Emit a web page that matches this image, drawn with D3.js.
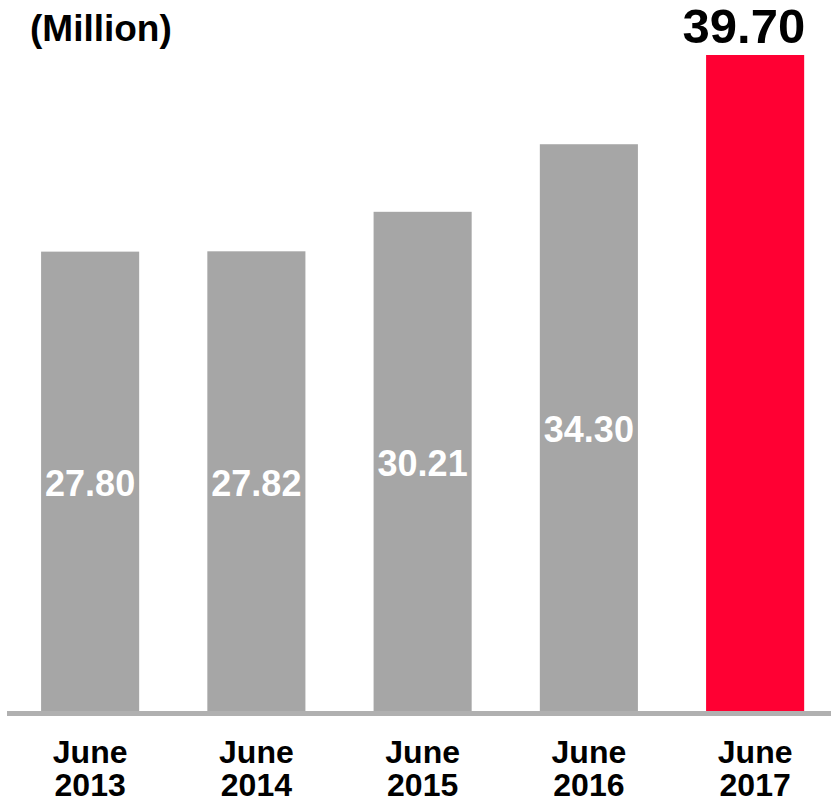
<!DOCTYPE html>
<html>
<head>
<meta charset="utf-8">
<script src="https://cdn.jsdelivr.net/npm/d3@7"></script>
<style>
  body { margin: 0; background: #fff; }
  svg { display: block; font-family: "Liberation Sans", Arial, sans-serif; font-weight: bold; }
</style>
</head>
<body>
<script>
// data
var months = ['June', 'June', 'June', 'June', 'June']
var years = ['2013', '2014', '2015', '2016', '2017']
var values = [27.80, 27.82, 30.21, 34.30, 39.70]
var unitLabel = '(Million)'

var width = 831, height = 802
var baseY = 711, topY = 55

var svg = d3.select('body').append('svg')
  .attr('width', width)
  .attr('height', height)

var x = d3.scaleBand()
  .domain(years)
  .range([7, 838.25])
  .paddingInner(0.41)
  .paddingOuter(0.205)

var y = d3.scaleLinear()
  .domain([0, d3.max(values)])
  .range([baseY, topY])

var last = years.length - 1

svg.selectAll('rect.bar')
  .data(values)
  .enter()
  .append('rect')
  .attr('class', 'bar')
  .attr('x', function(d, i){ return x(years[i]) })
  .attr('y', function(d){ return y(d) })
  .attr('width', x.bandwidth())
  .attr('height', function(d){ return y(0) - y(d) })
  .attr('fill', function(d, i){ return i === last ? '#ff0033' : '#a6a6a6' })

// baseline
svg.append('line')
  .attr('x1', 7)
  .attr('x2', width)
  .attr('y1', y(0) + 2.5)
  .attr('y2', y(0) + 2.5)
  .attr('stroke', '#b0b0b0')
  .attr('stroke-width', 5)

// value labels inside the grey bars
svg.selectAll('text.val')
  .data(values.slice(0, last))
  .enter()
  .append('text')
  .attr('class', 'val')
  .attr('x', function(d, i){ return x(years[i]) + x.bandwidth() / 2 })
  .attr('y', function(d){ return (y(d) + y(0)) / 2 })
  .attr('dy', '0.4em')
  .attr('text-anchor', 'middle')
  .attr('font-size', 36)
  .attr('fill', '#fff')
  .text(function(d){ return d.toFixed(2) })

// highlighted value above the last bar
svg.append('text')
  .attr('x', x(years[last]) + x.bandwidth() + 1)
  .attr('y', y(values[last]) - 12)
  .attr('text-anchor', 'end')
  .attr('font-size', 49)
  .attr('fill', '#000')
  .text(values[last].toFixed(2))

// category labels
var cat = svg.selectAll('text.cat')
  .data(years)
  .enter()
  .append('text')
  .attr('class', 'cat')
  .attr('text-anchor', 'middle')
  .attr('font-size', 32)
  .attr('fill', '#000')

cat.append('tspan')
  .attr('x', function(d){ return x(d) + x.bandwidth() / 2 })
  .attr('y', 763)
  .text(function(d, i){ return months[i] })
cat.append('tspan')
  .attr('x', function(d){ return x(d) + x.bandwidth() / 2 })
  .attr('y', 796)
  .text(function(d){ return d })

svg.append('text')
  .attr('x', 30)
  .attr('y', 41)
  .attr('font-size', 37)
  .attr('fill', '#000')
  .text(unitLabel)
</script>
</body>
</html>
